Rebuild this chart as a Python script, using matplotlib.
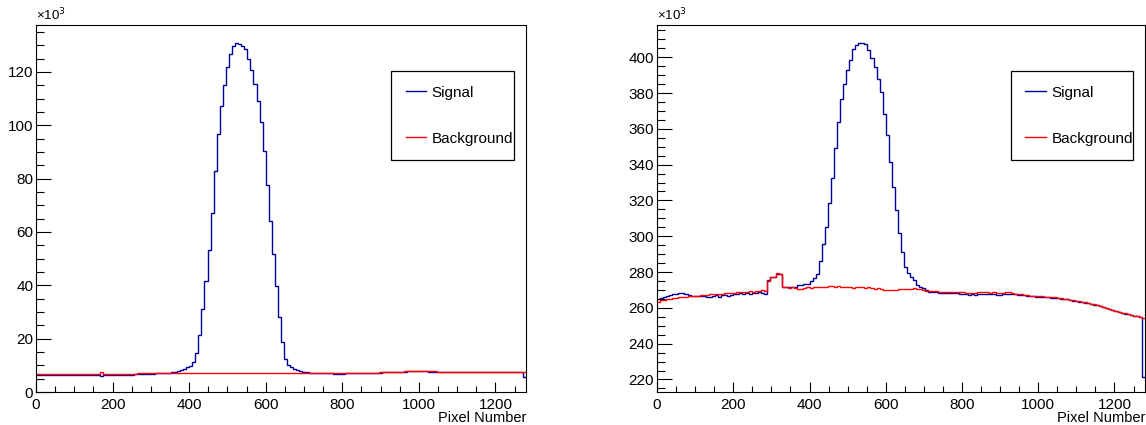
import numpy as np
import matplotlib
matplotlib.use("Agg")
import matplotlib.pyplot as plt
from matplotlib.ticker import MultipleLocator

plt.rcParams['font.family'] = ['Liberation Sans', 'DejaVu Sans']

# 160 bins of 8 pixels, 0..1280
bin_edges = np.arange(0, 1281, 8)

# Left panel (counts x 10^3)
left_signal = [
    6.5, 6.5, 6.4, 6.4, 6.4, 6.3, 6.3, 6.3, 6.3, 6.3,
    6.2, 6.2, 6.2, 6.2, 6.2, 6.2, 6.2, 6.2, 6.3, 6.3,
    6.3, 6.0, 6.4, 6.4, 6.4, 6.4, 6.4, 6.5, 6.5, 6.5,
    6.5, 6.5, 6.6, 6.6, 6.6, 6.7, 6.7, 6.8, 6.9, 7.0,
    7.1, 7.1, 7.2, 7.3, 7.4, 7.6, 7.8, 8.1, 8.5, 9.2,
    9.8, 11.1, 14.6, 21.5, 31.1, 41.7, 53.3, 67.3, 82.9, 96.8,
    107.3, 115.1, 121.8, 126.6, 129.9, 130.7, 130.6, 129.7, 128.5, 124.9,
    120.6, 115.4, 109.1, 101.1, 90.2, 77.7, 64.3, 51.7, 39.6, 28.2,
    18.7, 12.5, 10.0, 9.2, 8.6, 8.2, 7.9, 7.6, 7.4, 7.3,
    7.2, 7.1, 7.1, 7.0, 7.0, 7.0, 7.0, 6.9, 6.9, 6.9,
    6.9, 7.0, 7.0, 7.0, 7.0, 7.1, 7.1, 7.1, 7.2, 7.2,
    7.3, 7.3, 7.3, 7.4, 7.4, 7.5, 7.5, 7.5, 7.6, 7.6,
    7.6, 7.7, 7.7, 7.7, 7.7, 7.7, 7.7, 7.7, 7.6, 7.6,
    7.6, 7.6, 7.5, 7.5, 7.5, 7.4, 7.4, 7.4, 7.4, 7.4,
    7.4, 7.4, 7.4, 7.5, 7.5, 7.5, 7.5, 7.5, 7.5, 7.5,
    7.5, 7.5, 7.6, 7.6, 7.6, 7.5, 7.5, 7.5, 7.5, 5.6,
]
left_background = [
    6.8, 6.8, 6.8, 6.8, 6.8, 6.8, 6.8, 6.8, 6.8, 6.8,
    6.8, 6.8, 6.8, 6.8, 6.8, 6.8, 6.8, 6.8, 6.8, 6.9,
    6.9, 7.4, 6.9, 6.9, 6.9, 6.9, 6.9, 6.9, 6.9, 6.9,
    6.9, 6.9, 6.9, 7.0, 7.0, 7.0, 7.0, 7.0, 7.0, 7.0,
    7.0, 7.0, 7.0, 7.0, 7.1, 7.1, 7.1, 7.1, 7.1, 7.1,
    7.1, 7.1, 7.1, 7.1, 7.2, 7.2, 7.2, 7.2, 7.2, 7.2,
    7.2, 7.2, 7.2, 7.2, 7.2, 7.2, 7.2, 7.2, 7.2, 7.2,
    7.1, 7.1, 7.1, 7.1, 7.1, 7.0, 7.0, 7.0, 7.0, 7.0,
    7.0, 7.0, 7.0, 7.0, 7.0, 7.0, 7.0, 7.0, 7.0, 7.0,
    7.0, 7.0, 7.0, 7.0, 7.0, 7.0, 7.0, 7.0, 7.0, 7.0,
    7.0, 7.0, 7.0, 7.1, 7.1, 7.1, 7.1, 7.2, 7.2, 7.3,
    7.3, 7.3, 7.4, 7.4, 7.5, 7.5, 7.5, 7.6, 7.6, 7.6,
    7.7, 7.7, 7.7, 7.7, 7.8, 7.8, 7.8, 7.7, 7.7, 7.7,
    7.7, 7.6, 7.6, 7.6, 7.6, 7.5, 7.5, 7.5, 7.5, 7.5,
    7.5, 7.5, 7.5, 7.5, 7.5, 7.6, 7.6, 7.6, 7.6, 7.6,
    7.6, 7.6, 7.6, 7.6, 7.6, 7.6, 7.6, 7.6, 7.6, 7.6,
]

# Right panel (counts x 10^3)
right_signal = [
    264.8, 265.5, 266.0, 266.5, 267.0, 267.5, 268.0, 268.4, 268.2, 267.8,
    267.2, 266.8, 266.5, 266.5, 266.6, 266.4, 266.0, 266.3, 266.8, 267.0,
    266.2, 267.0, 267.3, 266.8, 267.3, 267.8, 268.0, 268.3, 268.0, 268.2,
    268.0, 268.3, 268.5, 268.8, 268.4, 268.0, 275.5, 277.3, 277.5, 279.0,
    278.8, 271.6, 271.6, 271.8, 271.5, 271.9, 272.5, 273.0, 273.2, 273.4,
    275.0, 276.6, 279.0, 286.0, 295.4, 305.2, 318.8, 332.4, 349.2, 363.9,
    376.9, 384.9, 392.6, 398.3, 404.7, 406.7, 408.2, 408.0, 407.4, 404.3,
    399.4, 394.6, 388.1, 380.8, 368.4, 356.3, 341.5, 327.6, 314.6, 301.9,
    291.1, 282.7, 279.2, 277.1, 275.3, 272.5, 271.7, 271.0, 270.2, 268.9,
    269.0, 268.8, 268.5, 268.4, 268.3, 268.2, 268.3, 268.2, 268.1, 268.0,
    267.8, 267.6, 267.4, 267.5, 267.4, 267.6, 267.7, 267.8, 267.8, 267.9,
    267.7, 267.4, 267.3, 267.5, 267.8, 268.0, 267.8, 267.5, 267.3, 267.1,
    267.0, 266.8, 266.6, 266.5, 266.3, 266.2, 266.2, 266.0, 265.9, 265.7,
    265.6, 265.4, 265.2, 265.0, 264.7, 264.3, 264.0, 263.8, 263.5, 263.2,
    262.8, 262.5, 262.2, 261.8, 261.4, 261.0, 260.5, 260.0, 259.4, 258.9,
    258.4, 257.8, 257.3, 256.8, 256.4, 256.0, 255.6, 255.3, 255.0, 221.6,
]
right_background = [
    263.5, 264.2, 264.6, 265.0, 265.2, 265.4, 265.6, 265.8, 266.0, 266.3,
    266.5, 266.6, 266.8, 266.9, 267.0, 267.2, 267.4, 267.6, 267.7, 267.8,
    267.8, 268.0, 268.2, 268.3, 268.2, 268.5, 268.8, 269.0, 268.8, 269.0,
    269.2, 269.0, 269.3, 269.5, 269.7, 269.6, 275.0, 277.0, 277.3, 279.2,
    279.0, 271.4, 271.5, 271.3, 271.6, 271.2, 270.8, 270.6, 271.0, 271.4,
    271.2, 271.5, 271.5, 271.6, 271.4, 271.7, 272.0, 272.1, 271.9, 272.0,
    271.8, 271.6, 271.8, 271.4, 271.2, 271.5, 271.8, 271.4, 271.3, 271.5,
    271.0, 270.8, 270.9, 270.5, 270.2, 270.0, 270.1, 269.8, 270.2, 270.4,
    270.6, 270.5, 270.4, 270.7, 270.9, 270.8, 270.5, 269.9, 269.6, 269.3,
    269.4, 269.2, 269.0, 268.8, 268.9, 268.7, 268.8, 269.0, 268.9, 268.8,
    268.7, 268.5, 268.3, 268.4, 268.5, 268.7, 268.6, 268.8, 268.6, 268.5,
    268.6, 268.4, 268.2, 268.3, 268.6, 268.7, 268.5, 268.0, 267.8, 267.6,
    267.3, 267.1, 266.9, 266.7, 266.6, 266.5, 266.4, 266.3, 266.1, 266.0,
    265.9, 265.7, 265.5, 265.2, 264.8, 264.6, 264.3, 264.0, 263.7, 263.4,
    263.0, 262.7, 262.3, 261.9, 261.5, 261.0, 260.5, 260.0, 259.5, 259.0,
    258.5, 257.9, 257.4, 256.9, 256.4, 256.0, 255.6, 255.3, 255.0, 254.4,
]

x_ticks = [0, 200, 400, 600, 800, 1000, 1200]
labels = ["Signal", "Background"]
signal_color = "#00009c"
background_color = "#ff0000"

W, H = 1146, 425
fig = plt.figure(figsize=(W / 100, H / 100), dpi=100)
ax_left = fig.add_axes([36 / W, 33 / H, 490 / W, 367 / H])
ax_right = fig.add_axes([657 / W, 33 / H, 488 / W, 367 / H])


def style_panel(ax, ylim):
    ax.set_xlim(0, 1280)
    ax.set_ylim(*ylim)
    ax.xaxis.set_major_locator(MultipleLocator(200))
    ax.xaxis.set_minor_locator(MultipleLocator(50))
    ax.yaxis.set_major_locator(MultipleLocator(20))
    ax.yaxis.set_minor_locator(MultipleLocator(5))
    ax.tick_params(axis='both', which='both', direction='in', top=False, right=False,
                   width=0.8, labelsize=11, colors='black')
    ax.tick_params(axis='x', which='major', length=7, pad=4)
    ax.tick_params(axis='x', which='minor', length=4)
    ax.tick_params(axis='y', which='major', length=10.5, pad=2)
    ax.tick_params(axis='y', which='minor', length=5.5)
    for s in ax.spines.values():
        s.set_linewidth(0.8)
    ax.text(0.0, 1.004, "×10$^{3}$", transform=ax.transAxes, ha='left', va='bottom',
            fontsize=9.5)
    ax.text(1.0, -0.072, "Pixel Number", transform=ax.transAxes, ha='right', va='center',
            fontsize=10.5)


for ax, sig, bkg, ylim in [(ax_left, left_signal, left_background, (0, 137.6)),
                           (ax_right, right_signal, right_background, (213, 418))]:
    ax.stairs(sig, bin_edges, baseline=None, color=signal_color, lw=1.0, label=labels[0])
    ax.stairs(bkg, bin_edges, baseline=None, color=background_color, lw=1.0, label=labels[1])
    style_panel(ax, ylim)
    ax.set_xticks(x_ticks)
    leg = ax.legend(loc='upper left', bbox_to_anchor=(0.725, 0.874, 0.25, 0.0),
                    mode='expand', borderaxespad=0, fontsize=11, frameon=True,
                    fancybox=False, shadow=False, framealpha=1, edgecolor='black',
                    labelspacing=2.1, borderpad=0.95, handlelength=1.35, handletextpad=0.35)
    leg.get_frame().set_linewidth(0.9)

fig.savefig("out.png", dpi=100)
